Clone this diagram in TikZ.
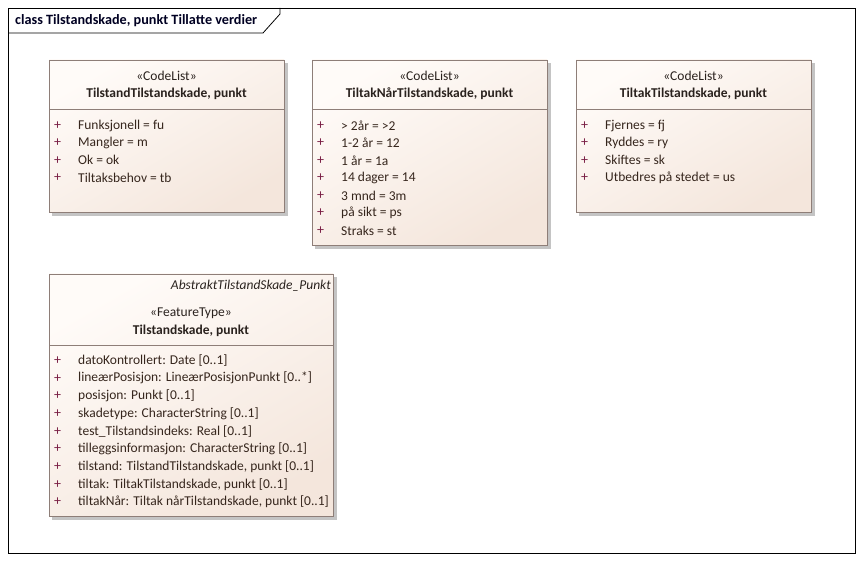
\documentclass[tikz,border=0pt]{standalone}
\usepackage{fontspec}
\setmainfont{Carlito}
\usetikzlibrary{calc}
\definecolor{frameC}{HTML}{000000}
\definecolor{boxBorder}{HTML}{8E7E78}
\definecolor{boxTop}{HTML}{FFFBF8}
\definecolor{boxBot}{HTML}{F4E6DC}
\definecolor{shadowC}{HTML}{C4C4C4}
\definecolor{txtC}{HTML}{2A221E}
\definecolor{attrC}{HTML}{36261D}
\definecolor{plusC}{HTML}{7A1F45}
\definecolor{titleC}{HTML}{000022}
\tikzset{
  umlbox/.style={draw=boxBorder, line width=0.9pt, top color=boxTop, bottom color=boxBot, shading angle=30},
  shadowbox/.style={fill=shadowC, draw=none},
  divider/.style={draw=boxBorder, line width=0.9pt},
  stereo/.style={font=\fontsize{13.5}{15}\selectfont, text=txtC, inner sep=0pt},
  cname/.style={font=\fontsize{13.5}{15}\selectfont\bfseries, text=txtC, inner sep=0pt},
  attr/.style={font=\fontsize{13.5}{15}\selectfont, text=attrC, inner sep=0pt, anchor=west},
  plus/.style={font=\fontsize{14}{15}\selectfont, text=plusC, inner sep=0pt},
  titletext/.style={font=\fontsize{14.2}{15}\selectfont\bfseries, text=titleC, inner sep=0pt, anchor=west}
}
\begin{document}
\begin{tikzpicture}[x=1pt,y=-1pt]
\useasboundingbox (0,0) rectangle (862,561);
\fill[white] (0,0) rectangle (862,561);
% frame
\draw[frameC, line width=0.8pt] (8,8) rectangle (855,553);
\draw[frameC, line width=0.8pt] (8,33) -- (263,33) -- (280,14) -- (280,8);
\node[titletext] (title) at (15,21) {class Tilstandskade, punkt Tillatte verdier};

% ---------- Box 1
\fill[shadowbox] (52,63) rectangle (288,216);
\draw[umlbox] (49,60) rectangle (284,212);
\draw[divider] (49,109) -- (284,109);
\node[stereo] (b1s) at (166.5,75.5) {«CodeList»};
\node[cname] (b1n) at (166.5,94) {TilstandTilstandskade, punkt};
\foreach \t [count=\i] in {Funksjonell = fu, Mangler = m, Ok = ok, Tiltaksbehov = tb}{
  \node[plus] (b1p\i) at (57.5,{125.5+17.4*(\i-1)}) {+};
  \node[attr] (b1a\i) at (78,{125.5+17.4*(\i-1)}) {\t};
}

% ---------- Box 2
\fill[shadowbox] (315,63) rectangle (551,249);
\draw[umlbox] (312,60) rectangle (547,245);
\draw[divider] (312,109) -- (547,109);
\node[stereo] (b2s) at (429.5,75.5) {«CodeList»};
\node[cname] (b2n) at (429.5,94) {TiltakNårTilstandskade, punkt};
\foreach \t [count=\i] in {> 2år = >2, 1-2 år = 12, 1 år = 1a, 14 dager = 14, 3 mnd = 3m, på sikt = ps, Straks = st}{
  \node[plus] (b2p\i) at (320.5,{125.5+17.5*(\i-1)}) {+};
  \node[attr] (b2a\i) at (341,{125.5+17.5*(\i-1)}) {\t};
}

% ---------- Box 3
\fill[shadowbox] (579,63) rectangle (815,216);
\draw[umlbox] (576,60) rectangle (811,212);
\draw[divider] (576,109) -- (811,109);
\node[stereo] (b3s) at (693.5,75.5) {«CodeList»};
\node[cname] (b3n) at (693.5,94) {TiltakTilstandskade, punkt};
\foreach \t [count=\i] in {Fjernes = fj, Ryddes = ry, Skiftes = sk, Utbedres på stedet = us}{
  \node[plus] (b3p\i) at (584.5,{125.5+17.4*(\i-1)}) {+};
  \node[attr] (b3a\i) at (605,{125.5+17.4*(\i-1)}) {\t};
}

% ---------- Box 4
\fill[shadowbox] (52,277) rectangle (337,520);
\draw[umlbox] (49,274) rectangle (333,516);
\draw[divider] (49,345) -- (333,345);
\node[stereo, font=\fontsize{13.5}{15}\selectfont\itshape, anchor=east] (b4abs) at (331,286) {AbstraktTilstandSkade\_Punkt};
\node[stereo] (b4s) at (191,313.5) {«FeatureType»};
\node[cname] (b4n) at (191,331) {Tilstandskade, punkt};
\foreach \t [count=\i] in {datoKontrollert: Date [0..1], lineærPosisjon: LineærPosisjonPunkt [0..*], posisjon: Punkt [0..1], skadetype: CharacterString [0..1], test\_Tilstandsindeks: Real [0..1], tilleggsinformasjon: CharacterString [0..1], {tilstand: TilstandTilstandskade, punkt [0..1]}, {tiltak: TiltakTilstandskade, punkt [0..1]}, {tiltakNår: Tiltak nårTilstandskade, punkt [0..1]}}{
  \node[plus] (b4p\i) at (57.5,{360.5+17.7*(\i-1)}) {+};
  \node[attr] (b4a\i) at (78,{360.5+17.7*(\i-1)}) {\t};
}
\end{tikzpicture}
\end{document}
